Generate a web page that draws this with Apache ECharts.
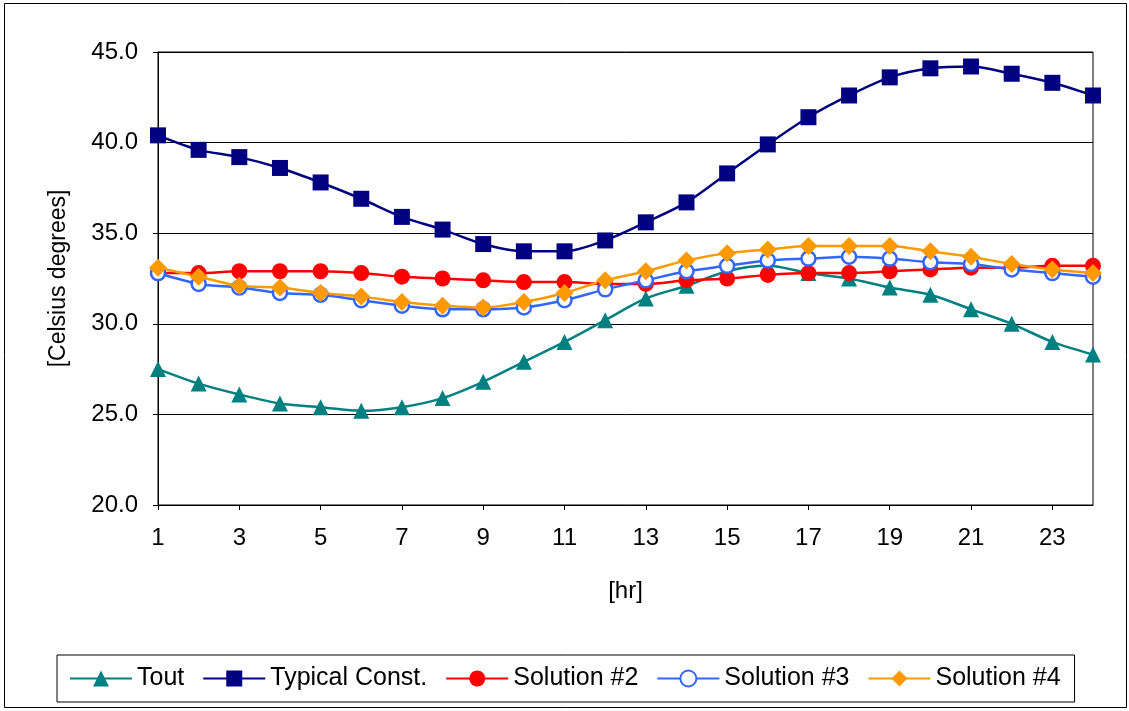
<!DOCTYPE html>
<html>
<head>
<meta charset="utf-8">
<script src="https://cdn.jsdelivr.net/npm/echarts@6/dist/echarts.min.js"></script>
<style>
  body { margin: 0; background: #fff; }
  #main { width: 1129px; height: 711px; }
</style>
</head>
<body>
<div id="main"></div>
<script>
// hours
var hours = ['1','2','3','4','5','6','7','8','9','10','11','12','13','14','15','16','17','18','19','20','21','22','23','24'];

var tout = [27.5, 26.7, 26.1, 25.6, 25.4, 25.2, 25.4, 25.9, 26.8, 27.9, 29.0, 30.2,
            31.4, 32.1, 32.9, 33.2, 32.8, 32.5, 32.0, 31.6, 30.8, 30.0, 29.0, 28.3];
var typical = [40.4, 39.6, 39.2, 38.6, 37.8, 36.9, 35.9, 35.2, 34.4, 34.0, 34.0, 34.6,
               35.6, 36.7, 38.3, 39.9, 41.4, 42.6, 43.6, 44.1, 44.2, 43.8, 43.3, 42.6];
var sol2 = [32.8, 32.8, 32.9, 32.9, 32.9, 32.8, 32.6, 32.5, 32.4, 32.3, 32.3, 32.2,
            32.2, 32.4, 32.5, 32.7, 32.8, 32.8, 32.9, 33.0, 33.1, 33.1, 33.2, 33.2];
var sol3 = [32.8, 32.2, 32.0, 31.7, 31.6, 31.3, 31.0, 30.8, 30.8, 30.9, 31.3, 31.9,
            32.4, 32.9, 33.2, 33.5, 33.6, 33.7, 33.6, 33.4, 33.3, 33.0, 32.8, 32.6];
var sol4 = [33.1, 32.6, 32.1, 32.0, 31.7, 31.5, 31.2, 31.0, 30.9, 31.2, 31.7, 32.4,
            32.9, 33.5, 33.9, 34.1, 34.3, 34.3, 34.3, 34.0, 33.7, 33.3, 33.0, 32.8];

var yTicks = ['20.0', '25.0', '30.0', '35.0', '40.0', '45.0'];

var chart = echarts.init(document.getElementById('main'));

var font = 'Liberation Sans, Arial, sans-serif';

function line(name, data, color, symbol, size, hollow) {
    return {
        name: name,
        type: 'line',
        data: data,
        smooth: 0.3,
        symbol: symbol,
        symbolSize: size,
        showAllSymbol: true,
        lineStyle: { color: color, width: 2.5 },
        itemStyle: {
            color: hollow ? '#fff' : color,
            borderColor: color,
            borderWidth: hollow ? 2.5 : 0
        },
        emphasis: { disabled: true }
    };
}

var option = {
    animation: false,
    backgroundColor: '#fff',
    textStyle: { fontFamily: font },
    graphic: [{
        type: 'rect',
        shape: { x: 4.5, y: 3.5, width: 1122, height: 704 },
        style: { fill: null, stroke: '#000', lineWidth: 1 },
        silent: true
    }],
    grid: {
        left: 158, right: 36, top: 52, bottom: 206,
        show: true, borderColor: '#000', borderWidth: 1
    },
    legend: {
        bottom: 9,
        left: 57,
        padding: [11, 14, 11, 12],
        borderColor: '#000',
        borderWidth: 1,
        itemGap: 18,
        itemWidth: 62,
        itemHeight: 20,
        textStyle: { fontSize: 25, color: '#000', fontFamily: font },
        data: ['Tout', 'Typical Const.', 'Solution #2', 'Solution #3', 'Solution #4']
    },
    xAxis: {
        type: 'category',
        data: hours,
        boundaryGap: false,
        name: '[hr]',
        nameLocation: 'middle',
        nameGap: 74,
        nameTextStyle: { fontSize: 24, color: '#000' },
        axisLine: { lineStyle: { color: '#000', width: 1 } },
        axisTick: { interval: 1, length: 5, lineStyle: { color: '#000' } },
        axisLabel: { interval: 1, fontSize: 24, color: '#000', margin: 21 },
        splitLine: { show: false }
    },
    yAxis: {
        type: 'value',
        min: 20,
        max: 45,
        interval: 5,
        name: '[Celsius degrees]',
        nameLocation: 'middle',
        nameGap: 88,
        nameTextStyle: { fontSize: 23, color: '#000' },
        axisLine: { show: true, lineStyle: { color: '#000', width: 1 } },
        axisTick: { show: true, length: 5, lineStyle: { color: '#000' } },
        axisLabel: {
            fontSize: 24, color: '#000', margin: 20,
            formatter: function (v) { return yTicks[(v - 20) / 5]; }
        },
        splitLine: { lineStyle: { color: '#000', width: 1 } }
    },
    series: [
        line('Tout', tout, '#008080', 'triangle', 16, false),
        line('Typical Const.', typical, '#000080', 'rect', 16, false),
        line('Solution #2', sol2, '#FF0000', 'circle', 16, false),
        line('Solution #3', sol3, '#3366FF', 'circle', 14, true),
        line('Solution #4', sol4, '#FF9900', 'diamond', 18, false)
    ]
};

chart.setOption(option);
</script>
</body>
</html>
